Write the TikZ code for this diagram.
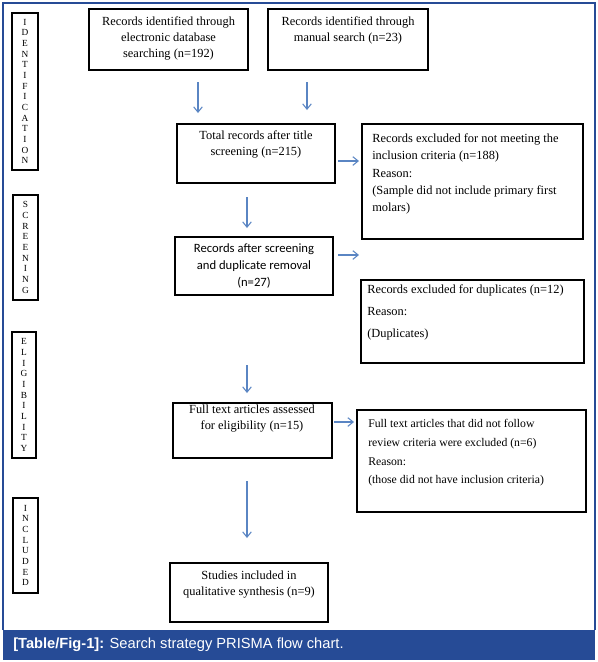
\documentclass[tikz,border=0pt]{standalone}
\usepackage{fontspec}
\setmainfont{Liberation Serif}
\newfontfamily\capfont{Liberation Sans}
\newfontfamily\calfont{Carlito}
\usetikzlibrary{arrows.meta,fit}
\definecolor{capblue}{HTML}{264B96}
\definecolor{arrblue}{HTML}{5A85C3}
\begin{document}
\begin{tikzpicture}[x=0.75pt,y=-0.75pt,
  box/.style={draw=black,line width=1.9pt,inner sep=0pt},
  arr/.style={draw=arrblue,line width=0.8pt,-{Straight Barb[length=4pt,width=6.5pt]}},
  txt/.style={align=center,font=\fontsize{9.3}{12}\selectfont,inner sep=0pt},
  ltxt/.style={align=left,inner sep=0pt,anchor=west},
  vert/.style={align=center,font=\fontsize{7}{8}\selectfont,inner sep=0pt}]
\useasboundingbox (0,0) rectangle (598,662);
% frame and caption band
\draw[capblue,line width=1.1pt] (3,630) -- (3,3) -- (595,3) -- (595,630);
\node[fill=capblue,inner sep=0pt,fit={(3,630) (595,660)}] (band) {};
\node[anchor=base west,inner sep=0pt,text=white,font=\capfont\fontsize{11}{13}\selectfont] (cap) at (13,648) {\textbf{[Table/Fig-1]:} Search strategy PRISMA flow chart.};
% side labels
\node[box,fit={(12,13) (38,170)}] (sId) {};
\node[vert] (sIdt) at (sId.center) {I\\D\\E\\N\\T\\I\\F\\I\\C\\A\\T\\I\\O\\N};
\node[box,fit={(13,195) (38,300)}] (sSc) {};
\node[vert] (sSct) at (sSc.center) {S\\C\\R\\E\\E\\N\\I\\N\\G};
\node[box,fit={(12,332) (36,458)}] (sEl) {};
\node[vert] (sElt) at (sEl.center) {E\\L\\I\\G\\I\\B\\I\\L\\I\\T\\Y};
\node[box,fit={(13,498) (38,593)}] (sIn) {};
\node[vert] (sInt) at (sIn.center) {I\\N\\C\\L\\U\\D\\E\\D};
% main boxes
\node[box,fit={(89,9) (248,70)}] (b1) {};
\node[txt] (b1t) at (168.5,38) {Records identified through\\electronic database\\searching (n=192)};
\node[box,fit={(268,9) (428,70)}] (b2) {};
\node[txt] (b2t) at (348,30) {Records identified through\\manual search (n=23)};
\node[box,fit={(177,124) (335,183)}] (b3) {};
\node[txt] (b3t) at (256,144) {Total records after title\\screening (n=215)};
\node[box,fit={(362,124) (583,239)}] (b4) {};
\node[ltxt,font=\fontsize{9.3}{13}\selectfont] (b4t) at (372,174) {Records excluded for not meeting the\\inclusion criteria (n=188)\\Reason:\\(Sample did not include primary first\\molars)};
\node[box,fit={(175,237) (333,295)}] (b5) {};
\node[txt,font=\calfont\fontsize{9.5}{12.6}\selectfont] (b5t) at (254,266) {Records after screening\\and duplicate removal\\(n=27)};
\node[box,fit={(361,280) (584,363)}] (b6) {};
\node[ltxt,font=\fontsize{9.3}{16.5}\selectfont] (b6t) at (367,312.5) {Records excluded for duplicates (n=12)\\Reason:\\(Duplicates)};
\node[box,fit={(173,403) (332,458)}] (b7) {};
\node[txt] (b7t) at (252,419) {Full text articles assessed\\for eligibility (n=15)};
\node[box,fit={(357,410) (586,512)}] (b8) {};
\node[ltxt,font=\fontsize{8.8}{14}\selectfont] (b8t) at (368,453) {Full text articles that did not follow\\review criteria were excluded (n=6)\\Reason:\\(those did not have inclusion criteria)};
\node[box,fit={(170,563) (328,622)}] (b9) {};
\node[txt] (b9t) at (249,585) {Studies included in\\qualitative synthesis (n=9)};
% arrows
\coordinate (a1s) at (198,82);  \coordinate (a1e) at (198,113);
\coordinate (a2s) at (307,82);  \coordinate (a2e) at (307,110);
\coordinate (a3s) at (338,161); \coordinate (a3e) at (359,161);
\coordinate (a4s) at (247,197); \coordinate (a4e) at (247,228);
\coordinate (a5s) at (338,255); \coordinate (a5e) at (359,255);
\coordinate (a6s) at (247,365); \coordinate (a6e) at (247,393);
\coordinate (a7s) at (334,422); \coordinate (a7e) at (354,422);
\coordinate (a8s) at (247,481); \coordinate (a8e) at (247,538);
\draw[arr] (a1s) -- (a1e);
\draw[arr] (a2s) -- (a2e);
\draw[arr] (a3s) -- (a3e);
\draw[arr] (a4s) -- (a4e);
\draw[arr] (a5s) -- (a5e);
\draw[arr] (a6s) -- (a6e);
\draw[arr] (a7s) -- (a7e);
\draw[arr] (a8s) -- (a8e);
\end{tikzpicture}
\end{document}
